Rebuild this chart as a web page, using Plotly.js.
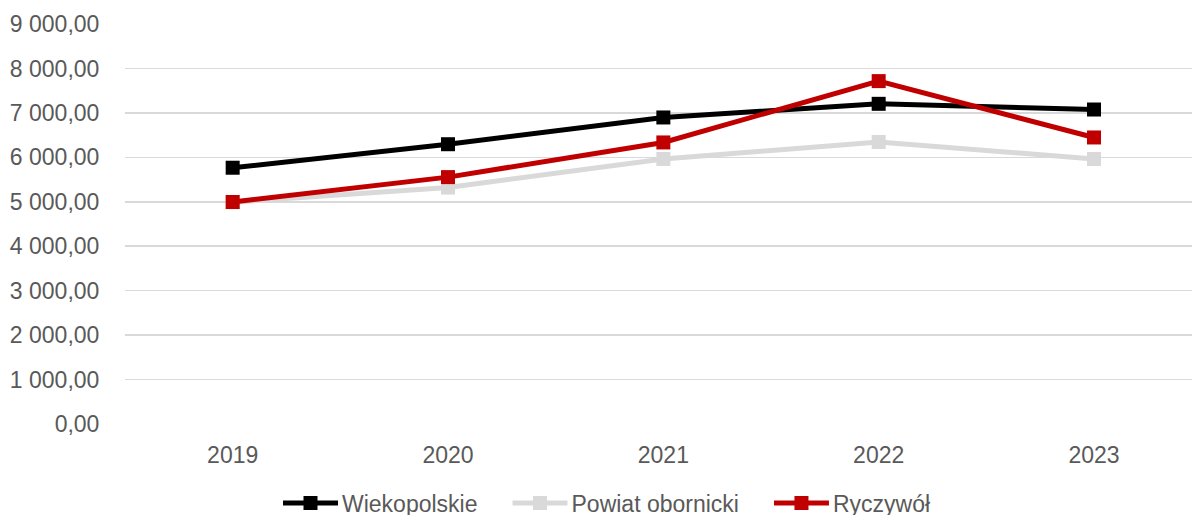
<!DOCTYPE html>
<html>
<head>
<meta charset="utf-8">
<script src="https://cdn.plot.ly/plotly-3.0.1.min.js"></script>
<style>
  html, body { margin: 0; padding: 0; background: #fff; }
  #chart { width: 1192px; height: 515px; }
</style>
</head>
<body>
<div id="chart"></div>
<script>
const years = ['2019', '2020', '2021', '2022', '2023'];
const wielkopolskie = [5766, 6295, 6897, 7204, 7076];
const powiatObornicki = [4990, 5320, 5964, 6346, 5962];
const ryczywol = [4995, 5555, 6335, 7715, 6447];
const yTicks = [0, 1000, 2000, 3000, 4000, 5000, 6000, 7000, 8000, 9000];

const xIdx = years.map((_, i) => i);

function trace(name, values, color) {
  return {
    type: 'scatter',
    mode: 'lines+markers',
    name: name,
    x: xIdx,
    y: values,
    line: { color: color, width: 5 },
    marker: { symbol: 'square', size: 14, color: color },
    hoverinfo: 'skip'
  };
}

const data = [
  trace('Wiekopolskie', wielkopolskie, '#000000'),
  trace('Powiat obornicki', powiatObornicki, '#d9d9d9'),
  trace('Ryczywół', ryczywol, '#c00000')
];

const font = { family: '"Liberation Sans", Arial, sans-serif', size: 23, color: '#595959' };

const layout = {
  width: 1192,
  height: 515,
  margin: { l: 124.5, r: 0, t: 24, b: 90.7, pad: 0 },
  paper_bgcolor: '#ffffff',
  plot_bgcolor: '#ffffff',
  separators: ', ',
  font: font,
  showlegend: true,
  xaxis: {
    range: [-0.5, 4.455],
    tickvals: xIdx,
    ticktext: years,
    showgrid: false,
    zeroline: false,
    showline: false,
    ticks: 'outside',
    ticklen: 10,
    tickcolor: 'rgba(0,0,0,0)',
    tickfont: font,
    fixedrange: true
  },
  yaxis: {
    range: [0, 9000],
    tickvals: yTicks,
    tickformat: ',.2f',
    showgrid: true,
    gridcolor: '#d9d9d9',
    gridwidth: 1.5,
    zeroline: false,
    showline: false,
    ticks: 'outside',
    ticklen: 20,
    tickcolor: 'rgba(0,0,0,0)',
    tickfont: font,
    fixedrange: true
  },
  legend: {
    orientation: 'h',
    xref: 'container',
    yref: 'container',
    x: 0.516,
    xanchor: 'center',
    y: 0.0,
    yanchor: 'bottom',
    font: font,
    traceorder: 'normal',
    itemwidth: 30,
    bgcolor: 'rgba(0,0,0,0)'
  }
};

const gd = document.getElementById('chart');
Plotly.newPlot(gd, data, layout, { displayModeBar: false, staticPlot: true }).then(() => {
  // Restyle the legend symbols to look like the reference (longer line, gaps)
  const legend = gd.querySelector('g.legend');
  if (!legend) return;
  const LINE = 55, GAP_TEXT = 4, GAP_ITEM = 35;
  const groups = legend.querySelectorAll('g.traces');
  let x = 0;
  groups.forEach(g => {
    const line = g.querySelector('path.js-line');
    if (line) line.setAttribute('d', 'M0,0h' + LINE);
    g.querySelectorAll('path.scatterpts').forEach(p => p.setAttribute('transform', 'translate(' + (LINE / 2) + ',0)'));
    const txt = g.querySelector('text.legendtext');
    let w = 0;
    if (txt) {
      txt.setAttribute('x', LINE + GAP_TEXT);
      txt.querySelectorAll('tspan[x]').forEach(t => t.setAttribute('x', LINE + GAP_TEXT));
      w = txt.getComputedTextLength();
    }
    const m = /translate\(\s*([-\d.e]+)[ ,]+([-\d.e]+)\s*\)/.exec(g.getAttribute('transform') || '');
    const ty = m ? parseFloat(m[2]) : 0;
    g.setAttribute('transform', 'translate(' + x + ',' + ty + ')');
    x += LINE + GAP_TEXT + w + GAP_ITEM;
  });
  legend.querySelectorAll('[clip-path]').forEach(e => e.removeAttribute('clip-path'));
  const firstLine = groups[0] && groups[0].querySelector('path.js-line');
  if (firstLine) {
    const r = firstLine.getBoundingClientRect();
    const cy = r.top + r.height / 2;
    const lm = /translate\(\s*([-\d.e]+)[ ,]+([-\d.e]+)\s*\)/.exec(legend.getAttribute('transform') || '');
    const lx = lm ? parseFloat(lm[1]) : 0, ly = lm ? parseFloat(lm[2]) : 0;
    legend.setAttribute('transform', 'translate(' + (lx + 283 - r.left) + ',' + (ly + 503 - cy) + ')');
  }
});
</script>
</body>
</html>
